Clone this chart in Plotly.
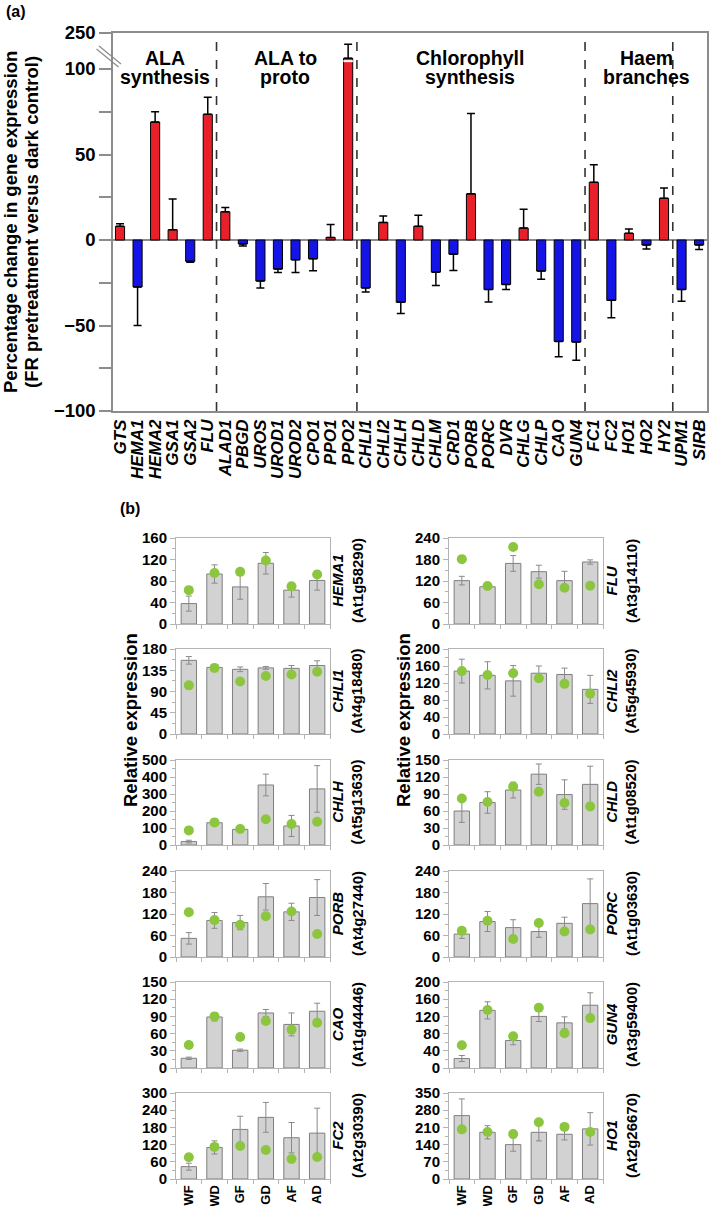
import plotly.graph_objects as go

W, H = 709, 1206
def px(x): return x / W
def py(y): return 1 - y / H

FONT = "Liberation Sans"

# ---------------- Panel (a) data ----------------
genes_a = ["GTS", "HEMA1", "HEMA2", "GSA1", "GSA2", "FLU",
           "ALAD1", "PBGD", "UROS", "UROD1", "UROD2", "CPO1", "PPO1", "PPO2",
           "CHLI1", "CHLI2", "CHLH", "CHLD", "CHLM", "CRD1", "PORB", "PORC", "DVR", "CHLG", "CHLP", "CAO", "GUN4",
           "FC1", "FC2", "HO1", "HO2", "HY2",
           "UPM1", "SIRB"]
change_a = [8, -27.5, 69, 6, -12.5, 73.5,
            16.5, -2.3, -24, -17, -11.6, -11, 1.5, 145,
            -28, 10.3, -36.4, 8, -18.8, -8.3, 27, -29, -26, 7, -18.2, -59.3, -59.7,
            33.7, -35.3, 3.9, -2.9, 24.4,
            -29, -2.9]
error_a = [1.5, 22.5, 6, 18, 0.5, 10,
           2.5, 1.2, 4, 2, 7.4, 7, 7.5, 58,
           2.4, 3.8, 6.6, 6.5, 7.8, 9.5, 47, 7.2, 3, 11, 4.7, 9, 10.6,
           10.3, 10.2, 2.5, 2.3, 6,
           6.8, 2.7]
group_line1 = ["ALA", "ALA to", "Chlorophyll", "Haem"]
group_line2 = ["synthesis", "proto", "synthesis", "branches"]
group_label_x = [165, 285, 470, 646]
group_bounds = [5.5, 13.5, 26.5, 31.5]
ytick_vals_a = [-100, -75, -50, -25, 0, 25, 50, 75, 100, 250]
ytick_text_a = ["−100", "", "−50", "", "0", "", "50", "", "100", "250"]
ytitle_lines = ["Percentage change in gene expression", "(FR pretreatment versus dark control)"]

BREAK = 100
COMPRESS = 21.05 / 150
def disp(v):
    return v if v <= BREAK else BREAK + (v - BREAK) * COMPRESS

# ---------------- Panel (b) data ----------------
conditions = ["WF", "WD", "GF", "GD", "AF", "AD"]

HEMA1_bar = [38, 93, 69, 113, 63, 81]
HEMA1_err = [14, 17, 23, 20, 13, 18]
HEMA1_dot = [63, 95, 97, 118, 70, 92]
FLU_bar = [121, 104, 169, 146, 121, 173]
FLU_err = [12, 3, 22, 18, 26, 6]
FLU_dot = [181, 106, 215, 111, 101, 107]
CHLI1_bar = [156, 141, 137, 140, 139, 145]
CHLI1_err = [8, 2, 5, 3, 6, 10]
CHLI1_dot = [103, 140, 111, 123, 126, 132]
CHLI2_bar = [148, 138, 125, 143, 140, 105]
CHLI2_err = [28, 32, 36, 17, 15, 33]
CHLI2_dot = [148, 139, 143, 131, 118, 95]
CHLH_bar = [20, 131, 92, 353, 112, 330]
CHLH_err = [8, 5, 5, 64, 62, 137]
CHLH_dot = [86, 133, 94, 151, 123, 137]
CHLD_bar = [60, 75, 97, 125, 89, 107]
CHLD_err = [20, 19, 14, 18, 26, 32]
CHLD_dot = [82, 76, 103, 94, 74, 68]
PORB_bar = [52, 102, 96, 168, 126, 166]
PORB_err = [16, 22, 20, 37, 24, 50]
PORB_dot = [125, 103, 90, 114, 127, 64]
PORC_bar = [64, 99, 82, 71, 94, 149]
PORC_err = [12, 28, 22, 16, 17, 69]
PORC_dot = [73, 101, 50, 95, 71, 77]
CAO_bar = [17, 89, 31, 96, 76, 99]
CAO_err = [2, 7, 2, 6, 20, 14]
CAO_dot = [40, 90, 54, 82, 67, 79]
GUN4_bar = [22, 134, 64, 120, 105, 146]
GUN4_err = [7, 20, 10, 12, 14, 29]
GUN4_dot = [53, 135, 74, 140, 81, 116]
FC2_bar = [43, 110, 173, 215, 144, 160]
FC2_err = [12, 23, 46, 52, 53, 87]
FC2_dot = [76, 112, 115, 101, 70, 77]
HO1_bar = [258, 190, 140, 190, 182, 204]
HO1_err = [68, 27, 27, 35, 23, 66]
HO1_dot = [202, 191, 183, 231, 212, 191]

panel_genes = ["HEMA1", "FLU", "CHLI1", "CHLI2", "CHLH", "CHLD",
               "PORB", "PORC", "CAO", "GUN4", "FC2", "HO1"]
panel_loci = ["At1g58290", "At3g14110", "At4g18480", "At5g45930", "At5g13630", "At1g08520",
              "At4g27440", "At1g03630", "At1g44446", "At3g59400", "At2g30390", "At2g26670"]
panel_ymax = [160, 240, 180, 200, 500, 150, 240, 240, 150, 200, 300, 350]
panel_dtick = [40, 60, 45, 40, 100, 30, 60, 60, 30, 40, 60, 70]
panel_bars = [HEMA1_bar, FLU_bar, CHLI1_bar, CHLI2_bar, CHLH_bar, CHLD_bar,
              PORB_bar, PORC_bar, CAO_bar, GUN4_bar, FC2_bar, HO1_bar]
panel_errs = [HEMA1_err, FLU_err, CHLI1_err, CHLI2_err, CHLH_err, CHLD_err,
              PORB_err, PORC_err, CAO_err, GUN4_err, FC2_err, HO1_err]
panel_dots = [HEMA1_dot, FLU_dot, CHLI1_dot, CHLI2_dot, CHLH_dot, CHLD_dot,
              PORB_dot, PORC_dot, CAO_dot, GUN4_dot, FC2_dot, HO1_dot]

# ---------------- Build figure ----------------
fig = go.Figure()

disp_vals = [disp(v) for v in change_a]
err_plus = [disp(v + e) - disp(v) if v > 0 else 0 for v, e in zip(change_a, error_a)]
err_minus = [e if v < 0 else 0 for v, e in zip(change_a, error_a)]
colors_a = ["#e8202a" if v > 0 else "#1414e6" for v in change_a]

fig.add_trace(go.Bar(
    x=list(range(len(genes_a))), y=disp_vals, width=0.52,
    marker=dict(color=colors_a, line=dict(color="black", width=1)),
    error_y=dict(type="data", symmetric=False, array=err_plus, arrayminus=err_minus,
                 color="black", thickness=1.5, width=4),
    xaxis="x", yaxis="y", showlegend=False))

layout = dict(
    width=W, height=H, margin=dict(l=0, r=0, t=0, b=0, pad=0), autosize=False,
    paper_bgcolor="white", plot_bgcolor="white", showlegend=False,
    xaxis=dict(domain=[px(113), px(707)], anchor="y", range=[-0.4, 33.45],
               tickmode="array", tickvals=list(range(len(genes_a))), ticktext=genes_a,
               tickangle=-90, ticks="", showgrid=False, zeroline=False, automargin=False,
               showline=True, linecolor="#8c8c8c", linewidth=1.5, mirror=True,
               tickfont=dict(family=FONT, size=17, color="black", weight="bold", style="italic")),
    yaxis=dict(domain=[py(411), py(33)], anchor="x", range=[-100, disp(250)],
               tickmode="array", tickvals=[disp(v) for v in ytick_vals_a], ticktext=ytick_text_a,
               ticks="outside", ticklen=12, tickcolor="#8c8c8c", tickwidth=1.5, automargin=False,
               showgrid=False, zeroline=True, zerolinecolor="#8c8c8c", zerolinewidth=1.5,
               showline=True, linecolor="#8c8c8c", linewidth=1.5, mirror=True,
               tickfont=dict(family=FONT, size=18.5, color="black", weight="bold")),
)

shapes = []
annotations = []

for b in group_bounds:
    shapes.append(dict(type="line", xref="x", yref="y", x0=b, x1=b, y0=-100, y1=disp(250),
                       line=dict(color="#333333", width=1.6, dash="dash")))

# white break across the PPO2 bar
i_ppo2 = genes_a.index("PPO2")
shapes.append(dict(type="line", xref="x", yref="y", x0=i_ppo2 - 0.27, x1=i_ppo2 + 0.27,
                   y0=BREAK + 4.6, y1=BREAK + 4.6, line=dict(color="white", width=2)))
# axis break marks
for dx, dy in [(0, 0), (-2.5, 3)]:
    shapes.append(dict(type="line", xref="paper", yref="paper",
                       x0=px(99 + dx), y0=py(46 + dy), x1=px(121 + dx), y1=py(64 + dy),
                       line=dict(color="#8c8c8c", width=1.2)))

for l1, l2, gx in zip(group_line1, group_line2, group_label_x):
    annotations.append(dict(xref="paper", yref="paper", x=px(gx), y=py(58), text="<b>%s</b>" % l1,
                            showarrow=False, xanchor="center", yanchor="middle",
                            font=dict(family=FONT, size=19.5, color="black")))
    annotations.append(dict(xref="paper", yref="paper", x=px(gx), y=py(77), text="<b>%s</b>" % l2,
                            showarrow=False, xanchor="center", yanchor="middle",
                            font=dict(family=FONT, size=19.5, color="black")))

for line, xx in zip(ytitle_lines, [11, 32]):
    annotations.append(dict(xref="paper", yref="paper", x=px(xx), y=py(222),
                            text="<b>%s</b>" % line,
                            textangle=-90, showarrow=False, xanchor="center", yanchor="middle",
                            font=dict(family=FONT, size=18.5, color="black")))
annotations.append(dict(xref="paper", yref="paper", x=px(4), y=py(12), text="<b>(a)</b>",
                        showarrow=False, xanchor="left", yanchor="middle",
                        font=dict(family=FONT, size=16, color="black")))
annotations.append(dict(xref="paper", yref="paper", x=px(118), y=py(508), text="<b>(b)</b>",
                        showarrow=False, xanchor="left", yanchor="middle",
                        font=dict(family=FONT, size=16, color="black")))

# ---------------- Panel (b) ----------------
col_x = [(176, 330), (449, 603)]
label_x = [347, 621]
row_top = [538, 649, 760, 871, 982, 1093]
row_bot = [624, 734, 845, 957, 1068, 1179]
FRAME = "#b4b4b4"

for k in range(12):
    r, c = divmod(k, 2)
    ax = k + 2
    xn, yn = "x%d" % ax, "y%d" % ax
    fig.add_trace(go.Bar(
        x=conditions, y=panel_bars[k], width=0.6,
        marker=dict(color="#d2d2d2", line=dict(color="#7f7f7f", width=1)),
        error_y=dict(type="data", array=panel_errs[k], color="#8a8a8a", thickness=1, width=3),
        xaxis=xn, yaxis=yn, showlegend=False))
    fig.add_trace(go.Scatter(
        x=conditions, y=panel_dots[k], mode="markers",
        marker=dict(color="#8cc63f", size=10),
        xaxis=xn, yaxis=yn, showlegend=False))
    layout["xaxis%d" % ax] = dict(
        domain=[px(col_x[c][0]), px(col_x[c][1])], anchor=yn,
        type="category", range=[-0.5, 5.5], tickson="boundaries", automargin=False,
        ticks="outside", ticklen=4, tickcolor=FRAME,
        showline=True, linecolor=FRAME, linewidth=1, mirror=True,
        showgrid=False, zeroline=False, tickangle=-90,
        showticklabels=(r == 5),
        tickfont=dict(family=FONT, size=13, color="black", weight="bold"))
    layout["yaxis%d" % ax] = dict(
        domain=[py(row_bot[r]), py(row_top[r])], anchor=xn,
        range=[0, panel_ymax[k]], dtick=panel_dtick[k], tick0=0, automargin=False,
        ticks="outside", ticklen=5, tickcolor=FRAME,
        minor=dict(dtick=panel_dtick[k] / 2, ticks="outside", ticklen=3, tickcolor=FRAME),
        showline=True, linecolor=FRAME, linewidth=1, mirror=True,
        showgrid=False, zeroline=False,
        tickfont=dict(family=FONT, size=15, color="black", weight="bold"))
    annotations.append(dict(
        xref="paper", yref="paper", x=px(label_x[c]), y=py((row_top[r] + row_bot[r]) / 2),
        text="<b><i>%s</i></b><br><b>(%s)</b>" % (panel_genes[k], panel_loci[k]),
        textangle=-90, showarrow=False, xanchor="center", yanchor="middle",
        font=dict(family=FONT, size=15, color="black")))

for xx in [131, 404]:
    annotations.append(dict(xref="paper", yref="paper", x=px(xx), y=py(720),
                            text="<b>Relative expression</b>", textangle=-90, showarrow=False,
                            xanchor="center", yanchor="middle",
                            font=dict(family=FONT, size=18.5, color="black")))

layout["shapes"] = shapes
layout["annotations"] = annotations
fig.update_layout(**layout)

fig.write_html("out.html", config={"responsive": False, "displayModeBar": False},
               post_script="document.body.style.margin='0px';document.body.style.overflow='hidden';")
